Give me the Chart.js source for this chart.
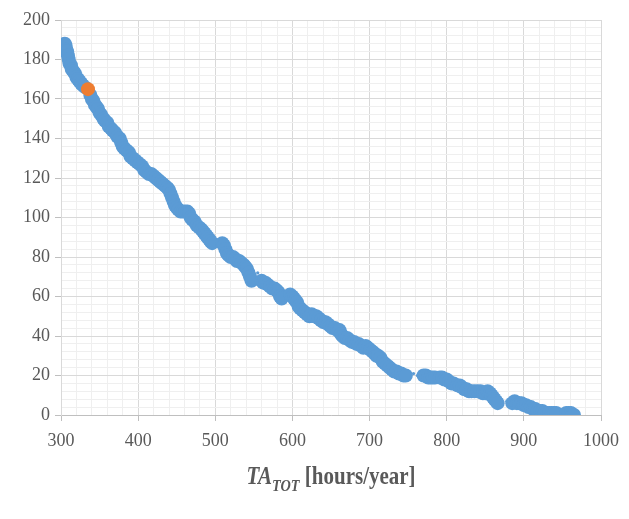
<!DOCTYPE html>
<html>
<head>
<meta charset="utf-8">
<script src="https://cdn.jsdelivr.net/npm/chart.js@4"></script>
<style>
  html, body { margin: 0; padding: 0; background: #fff; }
  #wrap { position: relative; width: 629px; height: 519px; }
  #xt {
    position: absolute; left: 61px; width: 540px; top: 464px;
    text-align: center; color: #595959;
    font: bold 21px "Liberation Serif", "Times New Roman", serif;
    transform: scaleY(1.22);
  }
  #xt i sub { font-size: 0.68em; position: relative; top: 0.05em; }
</style>
</head>
<body>
<div id="wrap">
  <canvas id="c" width="629" height="519"></canvas>
  <div id="xt"><i>TA<sub>TOT</sub></i> [hours/year]</div>
</div>
<script>
// ---- data ----
const blueX = [
  305,306,307,308,309,310,311,313,314,316,318,320,322,324,326,328,331,
  338,340,342,344,346,348,350,352,355,357,360,362,365,367,370,373,376,378,380,382,385,388,390,
  393,396,399,402,405,408,411,414,417,420,423,426,429,432,435,438,440,442,444,446,448,450,452,
  455,458,461,464,466,468,470,473,476,479,482,484,486,488,490,492,494,496,
  509,511,513,515,517,520,523,526,528,531,534,537,539,541,543,545,547,
  560,562,565,568,571,574,577,580,582,584,586,
  597,600,602,604,606,608,610,613,616,619,622,625,628,631,634,637,640,643,646,649,652,655,658,
  661,663,665,668,671,674,677,680,683,686,689,692,695,698,701,704,707,709,711,714,717,720,723,
  726,729,732,735,738,741,744,747,
  770,773,776,779,782,785,791,794,797,800,803,806,809,814,817,820,823,826,829,832,836,840,844,
  847,850,853,856,858,860,862,864,866,
  885,888,891,894,897,900,903,906,909,912,915,918,921,924,927,930,933,936,939,942,955,958,961,963,965
];
const blueY = [
  188,187,185,184,182,180,178,177,175,174,173,171,170,169,168,167,166,
  162,160,159,157,156,155,153,152,150,149,148,146,145,144,143,141,140,138,136,135,134,133,131,
  130,129,128,127,126,124,123,122,122,121,120,119,118,117,116,115,114,112,110,108,106,105,104,
  103,103,103,103,102,100,99,98,96,95,94,93,92,91,90,89,88,87,
  87,86,84,82,81,80,80,79,78,78,77,76,75,74,72,70,68,
  68,67,67,66,65,64,64,63,62,60,59,
  61,60,59,58,57,55,54,53,52,51,50,51,50,50,49,48,47,47,46,45,44,44,43,
  43,41,40,39,39,38,37,37,36,36,35,34,35,34,33,32,31,30,30,29,27,26,25,
  24,23,22,22,21,21,20,20,
  20,20,19,19,19,19,19,19,18,18,17,16,16,15,15,14,13,13,12,12,12,12,12,
  11,11,12,11,10,9,8,7,6,
  6,7,6,6,6,5,5,4,4,3,3,2,2,2,1,1,1,1,1,1,1,1,1,0,0
];
const orangeX = [335];
const orangeY = [165];
const dotX = [555, 757, 762, 878];
const dotY = [72, 21, 20, 7];

const xMin = 300, xMax = 1000, xStep = 20, xMajor = 100;
const yMin = 0, yMax = 200, yStep = 4, yMajor = 20;

const pts = (xs, ys) => xs.map((x, i) => ({ x: x, y: ys[i] }));
const major = (v, m) => Math.round(v) % m === 0;
const tickFont = { family: "'Liberation Serif', 'Times New Roman', serif", size: 18 };

new Chart(document.getElementById("c"), {
  type: "scatter",
  data: {
    datasets: [
      { data: pts(orangeX, orangeY), backgroundColor: "#ed7d31", borderWidth: 0, pointRadius: 7, order: 0 },
      { data: pts(blueX, blueY), backgroundColor: "#5b9bd5", borderWidth: 0, pointRadius: 7, order: 1 },
      { data: pts(dotX, dotY), backgroundColor: "#5b9bd5", borderWidth: 0, pointRadius: 1.6, order: 2 }
    ]
  },
  options: {
    responsive: false,
    animation: false,
    layout: { padding: { top: 20, right: 28, left: 0, bottom: 0 } },
    plugins: { legend: { display: false }, tooltip: { enabled: false } },
    scales: {
      x: {
        type: "linear", min: xMin, max: xMax,
        afterFit: s => { s.height = 104; },
        border: { color: "#bfbfbf" },
        grid: {
          color: c => major(c.tick.value, xMajor) ? "#d9d9d9" : "#efefef",
          tickColor: c => major(c.tick.value, xMajor) ? "#bfbfbf" : "rgba(0,0,0,0)",
          tickLength: 6
        },
        ticks: {
          stepSize: xStep, autoSkip: false, maxRotation: 0, padding: 9,
          color: "#595959", font: tickFont,
          callback: v => major(v, xMajor) ? v : ""
        }
      },
      y: {
        type: "linear", min: yMin, max: yMax,
        afterFit: s => { s.width = 61; },
        border: { color: "#d9d9d9" },
        grid: {
          color: c => major(c.tick.value, yMajor) ? "#d9d9d9" : "#efefef",
          tickColor: c => major(c.tick.value, yMajor) ? "#bfbfbf" : "rgba(0,0,0,0)",
          tickLength: 6
        },
        ticks: {
          stepSize: yStep, autoSkip: false, padding: 5,
          color: "#595959", font: tickFont,
          callback: v => major(v, yMajor) ? v : ""
        }
      }
    }
  }
});
</script>
</body>
</html>
